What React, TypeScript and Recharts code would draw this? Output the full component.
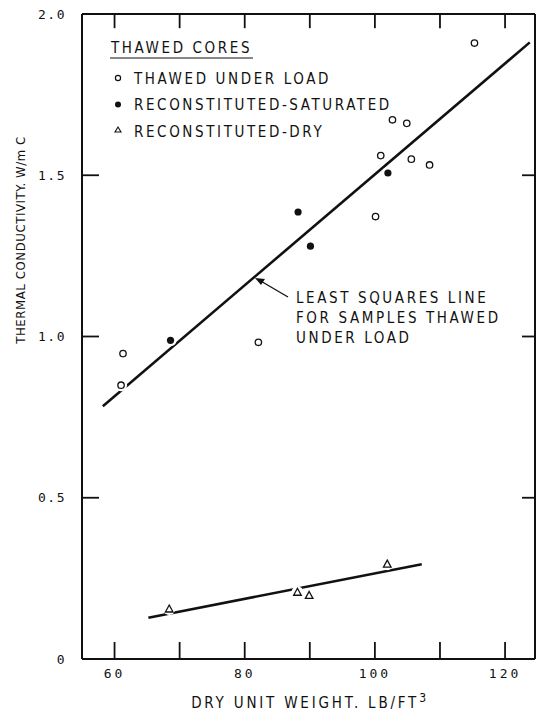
import React from "react";
import { ComposedChart, XAxis, YAxis, Line, Scatter, ReferenceLine } from "recharts";

const xDomain = [55, 124.6];
const yDomain = [0, 2];
const xTicks = [60, 70, 80, 90, 100, 110, 120];
const xLabeled = [60, 80, 100, 120];
const yTicks = [0, 0.5, 1.0, 1.5, 2.0];
const yInnerTicks = [0.5, 1.0, 1.5];

const thawedUnderLoad = [
  { x: 115.3, y: 1.91 },
  { x: 102.7, y: 1.672 },
  { x: 104.9, y: 1.661 },
  { x: 100.9, y: 1.561 },
  { x: 105.6, y: 1.55 },
  { x: 108.4, y: 1.532 },
  { x: 100.1, y: 1.372 },
  { x: 82.1, y: 0.982 },
  { x: 61.3, y: 0.947 },
  { x: 61.0, y: 0.849 },
];
const reconSaturated = [
  { x: 102.0, y: 1.507 },
  { x: 88.2, y: 1.386 },
  { x: 90.1, y: 1.28 },
  { x: 68.6, y: 0.988 },
];
const reconDry = [
  { x: 68.4, y: 0.155 },
  { x: 88.1, y: 0.207 },
  { x: 89.9, y: 0.197 },
  { x: 101.9, y: 0.294 },
];
const fitLine = [
  { x: 58.2, y: 0.784 },
  { x: 123.8, y: 1.912 },
];
const dryLine = [
  { x: 65.2, y: 0.128 },
  { x: 107.2, y: 0.294 },
];

const legendTitle = "THAWED CORES";
const legendItems = ["THAWED UNDER LOAD", "RECONSTITUTED-SATURATED", "RECONSTITUTED-DRY"];
const noteLines = ["LEAST SQUARES LINE", "FOR SAMPLES THAWED", "UNDER LOAD"];
const yTitle = "THERMAL CONDUCTIVITY. W/m  C";
const xTitle = "DRY UNIT WEIGHT. LB/FT";

const FONT = "'DejaVu Sans Condensed', 'DejaVu Sans', sans-serif";
const MONO = "'DejaVu Sans Mono', monospace";
const INK = "#111";

// inner tick lengths of the top and right frame, in axis units
const TOP_TICK = 0.044;
const RIGHT_TICK = 2.0;

const OpenCircle = (p: any) => (
  <g>
    <circle cx={p.cx} cy={p.cy} r={6} fill="#fff" />
    <circle cx={p.cx} cy={p.cy} r={3.2} fill="#fff" stroke={INK} strokeWidth={1.3} />
  </g>
);
const FilledCircle = (p: any) => (
  <g>
    <circle cx={p.cx} cy={p.cy} r={6} fill="#fff" />
    <circle cx={p.cx} cy={p.cy} r={3.6} fill={INK} />
  </g>
);
const Triangle = (p: any) => {
  const { cx, cy } = p;
  return (
    <g>
      <circle cx={cx} cy={cy} r={6} fill="#fff" />
      <path
        d={`M${cx},${cy - 4} L${cx + 3.8},${cy + 3} L${cx - 3.8},${cy + 3} Z`}
        fill="#fff"
        stroke={INK}
        strokeWidth={1.3}
      />
    </g>
  );
};

const tickStroke = { stroke: INK, strokeWidth: 1.8 };
const txt = { fontFamily: FONT, fontSize: 15, letterSpacing: 2.6, fill: INK } as const;

export default function App() {
  return (
    <div
      style={{ position: "absolute", left: 0, top: 0, width: 537, height: 716, background: "#fff", fontFamily: MONO }}
    >
      <ComposedChart width={537} height={716} margin={{ top: 14, right: 2, bottom: 27, left: 22 }}>
        <XAxis
          xAxisId="b"
          dataKey="x"
          type="number"
          domain={xDomain}
          ticks={xTicks}
          interval={0}
          height={30}
          tickSize={-17}
          tickMargin={27}
          tickLine={tickStroke}
          tickFormatter={(v: number) => (xLabeled.includes(v) ? String(v) : "")}
          tick={{ fontSize: 13, fill: INK, letterSpacing: 3 }}
          axisLine={{ stroke: INK, strokeWidth: 2 }}
          allowDataOverflow
        />
        <YAxis
          yAxisId="l"
          type="number"
          domain={yDomain}
          ticks={yTicks}
          interval={0}
          width={60}
          tickSize={-17}
          tickMargin={33}
          tickLine={tickStroke}
          tickFormatter={(v: number) => (v === 0 ? "0" : v.toFixed(1))}
          tick={{ fontSize: 13, fill: INK, letterSpacing: 1.5 }}
          axisLine={{ stroke: INK, strokeWidth: 2 }}
          allowDataOverflow
        />
        <ReferenceLine xAxisId="b" yAxisId="l" y={yDomain[1]} stroke={INK} strokeWidth={2} />
        <ReferenceLine xAxisId="b" yAxisId="l" x={xDomain[1]} stroke={INK} strokeWidth={2} />
        {xTicks.map((v) => (
          <ReferenceLine
            key={`t${v}`}
            xAxisId="b"
            yAxisId="l"
            segment={[{ x: v, y: yDomain[1] }, { x: v, y: yDomain[1] - TOP_TICK }]}
            stroke={INK}
            strokeWidth={1.8}
          />
        ))}
        {yInnerTicks.map((v) => (
          <ReferenceLine
            key={`r${v}`}
            xAxisId="b"
            yAxisId="l"
            segment={[{ x: xDomain[1] - RIGHT_TICK, y: v }, { x: xDomain[1], y: v }]}
            stroke={INK}
            strokeWidth={1.8}
          />
        ))}
        <Line xAxisId="b" yAxisId="l" data={fitLine} dataKey="y" stroke={INK} strokeWidth={2.6} dot={false} isAnimationActive={false} />
        <Line xAxisId="b" yAxisId="l" data={dryLine} dataKey="y" stroke={INK} strokeWidth={2.6} dot={false} isAnimationActive={false} />
        <Scatter xAxisId="b" yAxisId="l" data={thawedUnderLoad} dataKey="y" shape={OpenCircle} isAnimationActive={false} />
        <Scatter xAxisId="b" yAxisId="l" data={reconSaturated} dataKey="y" shape={FilledCircle} isAnimationActive={false} />
        <Scatter xAxisId="b" yAxisId="l" data={reconDry} dataKey="y" shape={Triangle} isAnimationActive={false} />
      </ComposedChart>
      <svg width={537} height={716} style={{ position: "absolute", left: 0, top: 0, pointerEvents: "none" }}>
        <text x={111} y={53} {...txt}>{legendTitle}</text>
        <line x1={110} y1={58} x2={253} y2={58} stroke={INK} strokeWidth={1.2} />
        <circle cx={118} cy={78} r={2.6} fill="#fff" stroke={INK} strokeWidth={1.2} />
        <text x={134} y={84} {...txt}>{legendItems[0]}</text>
        <circle cx={118} cy={104.5} r={3} fill={INK} />
        <text x={134} y={110} {...txt}>{legendItems[1]}</text>
        <path d="M118,127 L121,132 L115,132 Z" fill="#fff" stroke={INK} strokeWidth={1.1} />
        <text x={134} y={137} {...txt}>{legendItems[2]}</text>
        <line x1={288} y1={297} x2={259} y2={280} stroke={INK} strokeWidth={1.3} />
        <path d="M255,278 L265,279 L261,285 Z" fill={INK} />
        {noteLines.map((s, i) => (
          <text key={s} x={296} y={303 + i * 20} {...txt}>
            {s}
          </text>
        ))}
        <text
          transform="translate(25,240) rotate(-90)"
          textAnchor="middle"
          fontFamily={FONT}
          fontSize={13}
          letterSpacing={0.6}
          fill={INK}
        >
          {yTitle}
        </text>
        <text x={310} y={708} textAnchor="middle" fontFamily={FONT} fontSize={15} letterSpacing={2.8} fill={INK}>
          {xTitle}
          <tspan dy={-6} fontSize={12}>3</tspan>
        </text>
      </svg>
    </div>
  );
}
